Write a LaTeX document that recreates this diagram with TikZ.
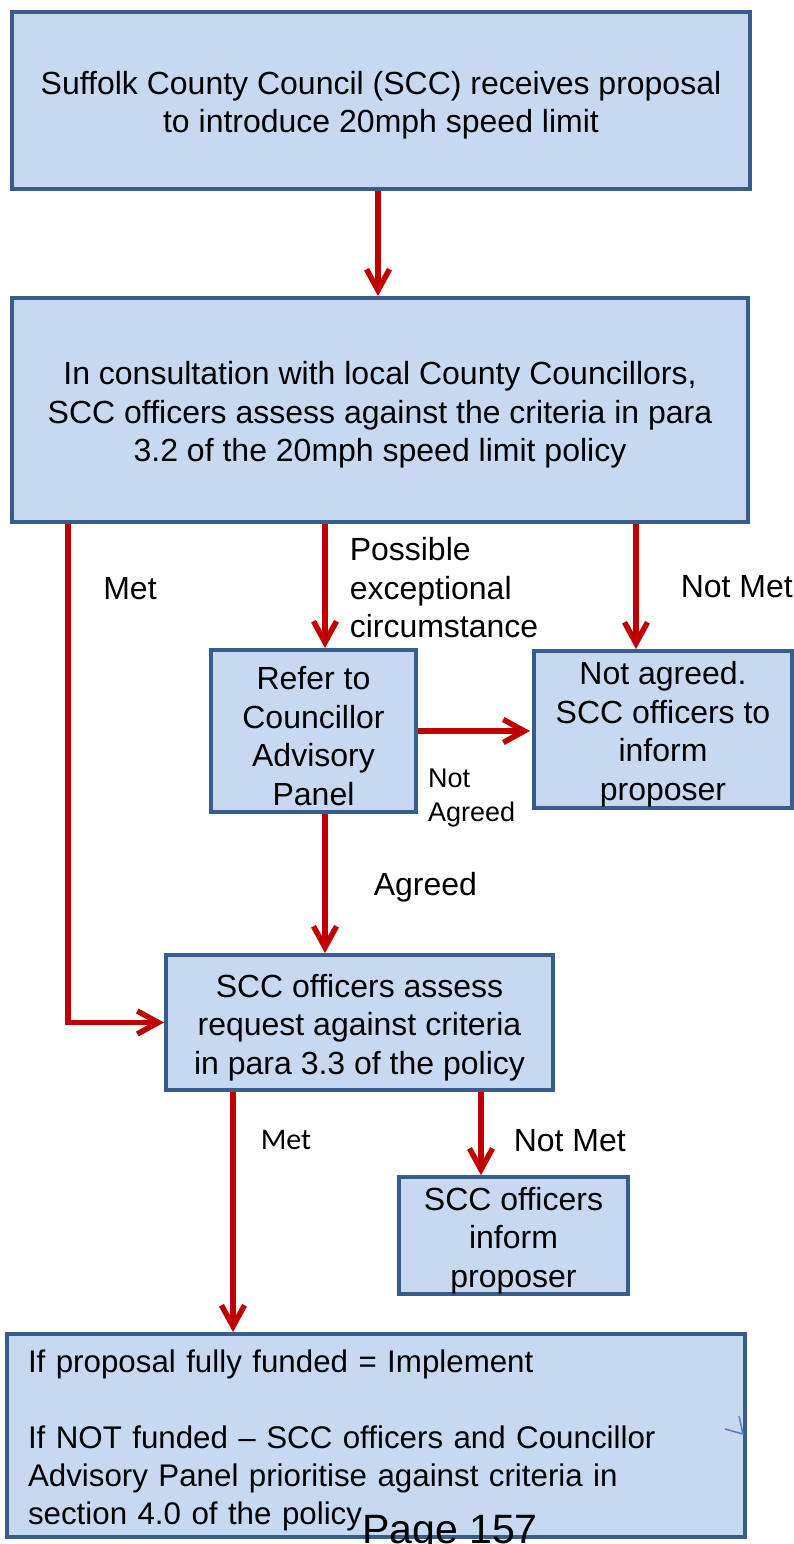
\documentclass[tikz,border=0pt]{standalone}
\usepackage{fontspec}
\setmainfont{Liberation Sans}
\newfontfamily\carlito{Carlito}
\usetikzlibrary{arrows.meta}
\definecolor{boxfill}{HTML}{C6D9F1}
\definecolor{boxline}{HTML}{385D8A}
\definecolor{arrowred}{HTML}{C00000}
\definecolor{markblue}{HTML}{4F81BD}
\newcommand{\boxstrut}{\rule{0pt}{33pt}}
\begin{document}
\begin{tikzpicture}[x=1pt,y=-1pt,
  box/.style={draw=boxline,fill=boxfill,line width=4pt,inner sep=0pt,align=center,font=\fontsize{32}{38.5}\selectfont},
  arr/.style={draw=arrowred,line width=5.5pt,-{Straight Barb[length=21pt,width=23pt]}},
  lbl/.style={inner sep=0pt,align=left,font=\fontsize{32}{38.5}\selectfont}]
\useasboundingbox (0,0) rectangle (794,1544);
\node [box,minimum width=738pt,minimum height=177pt] (propose) at (381,100.5) {\boxstrut Suffolk County Council (SCC) receives proposal\\to introduce 20mph speed limit};
\node [box,minimum width=736pt,minimum height=224pt] (assess) at (380,410) {\boxstrut In consultation with local County Councillors,\\SCC officers assess against the criteria in para\\3.2 of the 20mph speed limit policy};
\node [box,minimum width=205pt,minimum height=162pt] (panel) at (313.5,731) {\boxstrut Refer to\\Councillor\\Advisory\\Panel};
\node [box,minimum width=258pt,minimum height=157pt] (notagreed) at (663,729.5) {\boxstrut Not agreed.\\SCC officers to\\inform\\proposer};
\node [box,minimum width=387pt,minimum height=135pt] (request) at (359.5,1022.5) {\boxstrut SCC officers assess\\request against criteria\\in para 3.3 of the policy};
\node [box,minimum width=229pt,minimum height=115pt] (inform) at (513.5,1235.5) {\boxstrut SCC officers\\inform\\proposer};
\node [box,minimum width=738pt,minimum height=203pt,text width=696pt,align=left,font=\fontsize{31.3}{38}\selectfont] (funded) at (376,1435.5) {\boxstrut If proposal fully funded = Implement\\[38pt]If NOT funded – SCC officers and Councillor\\Advisory Panel prioritise against criteria in\\section 4.0 of the policy};
\draw [arr] ([xshift=-3pt]propose.south) -- ([xshift=-2pt]assess.north);
\draw [arr] ([xshift=-312pt]assess.south) |- (request.west);
\node [lbl] (met) at (130,589) {Met};
\draw [arr] ([xshift=-55pt]assess.south) -- node [lbl,midway,right=22pt,yshift=-2pt]{Possible\\exceptional\\circumstance} ([xshift=11.5pt]panel.north);
\draw [arr] ([xshift=256pt]assess.south) -- node [lbl,midway,right=42pt]{Not Met} ([xshift=-27pt]notagreed.north);
\draw [arr] (panel.east) -- ([xshift=-2pt]panel.east -| notagreed.west);
\node [lbl,anchor=west,font=\fontsize{27}{34}\selectfont] (notagreedlbl) at (428,798) {Not\\Agreed};
\draw [arr] ([xshift=11.5pt]panel.south) -- node [lbl,midway,right=46pt,yshift=-4pt]{Agreed} ([xshift=-34.5pt]request.north);
\draw [arr] ([xshift=-126.5pt]request.south) -- node [lbl,pos=0.2,right=25pt,font=\carlito\fontsize{30}{36}\selectfont]{Met} ([xshift=-143pt]funded.north);
\draw [arr] ([xshift=121.5pt]request.south) -- node [lbl,midway,right=30pt,yshift=-7pt]{Not Met} ([xshift=-32.5pt]inform.north);
\draw [markblue,line width=1.5pt] (739,1416) -- (743,1434) -- (725,1429);
\node [anchor=base,inner sep=0pt,font=\fontsize{41}{49}\selectfont] (page) at (450,1543) {Page 157};
\end{tikzpicture}
\end{document}
